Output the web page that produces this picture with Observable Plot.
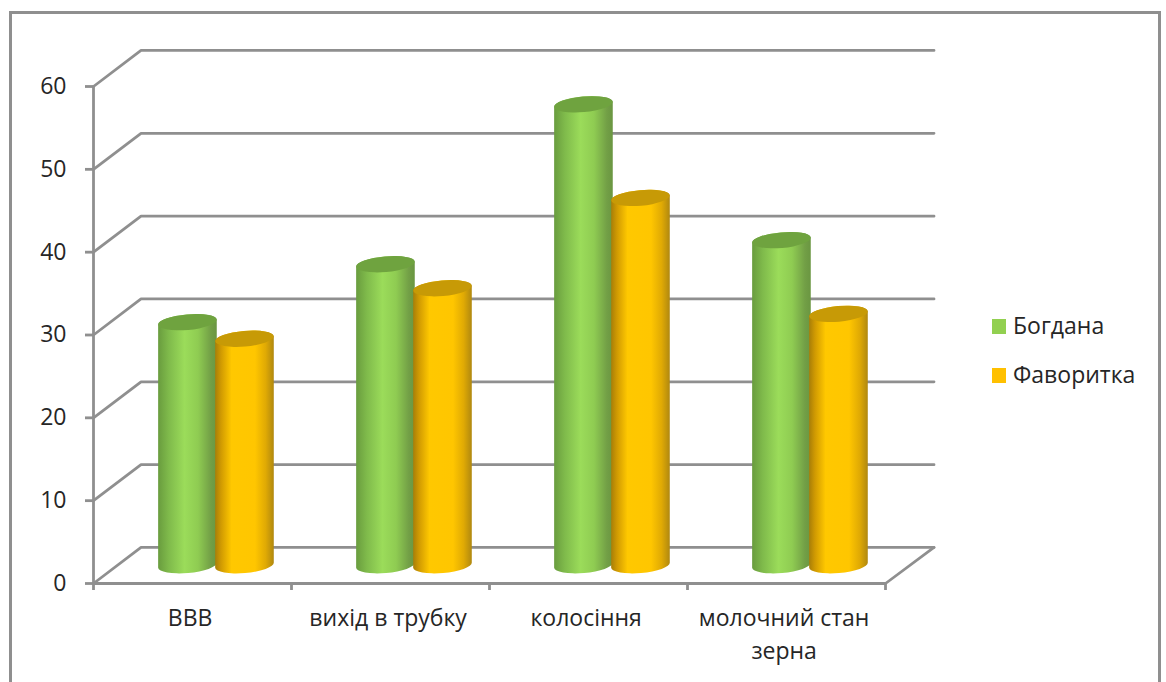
<!DOCTYPE html>
<html>
<head>
<meta charset="utf-8">
<script src="https://cdn.jsdelivr.net/npm/d3@7"></script>
<script src="https://cdn.jsdelivr.net/npm/@observablehq/plot@0.6"></script>
<style>
  html, body { margin: 0; padding: 0; background: #fff; overflow: hidden; }
  #page { position: relative; width: 1166px; height: 682px; overflow: hidden; font-family: "Open Sans", sans-serif; color: #262626; }
  #border { position: absolute; left: 9px; top: 11px; width: 1152px; height: 720px; border: 3px solid #8f8f8f; box-sizing: border-box; }
  #chart { position: absolute; left: 0; top: 0; }
  #chart svg { background: transparent; }
  .key { position: absolute; left: 992px; font-size: 23px; line-height: 28px; white-space: nowrap; }
  .key i { display: inline-block; width: 14px; height: 15px; margin-right: 7px; vertical-align: 0; }
</style>
</head>
<body>
<div id="page">
  <div id="border"></div>
  <div id="chart"></div>
</div>
<script>
// Growth stages along the axis; line breaks as set on the category labels.
const stages = ["ВВВ", "вихід в трубку", "колосіння", "молочний стан\nзерна"];
const varieties = ["Богдана", "Фаворитка"];
const bogdana = [30.4, 37.4, 56.7, 40.3];
const favoritka = [28.4, 34.5, 45.4, 31.4];
const valueTicks = [0, 10, 20, 30, 40, 50, 60];
const swatches = ["#92d050", "#ffc000"];
const caps = ["#6fa33f", "#c79a06"];

// Oblique projection of the chart's box: how far the back wall sits, in data units.
const depthX = 0.24;
const depthY = 4.35;
const topLift = depthY * 0.25;
const floorLevel = 2.15;
const barHalf = 0.148;
const barCentres = [0.477, 0.765];
const grey = "#8f8f8f";

const rows = [];
stages.forEach((stage, i) => {
  rows.push({i, series: 0, low: i + barCentres[0] - barHalf, high: i + barCentres[0] + barHalf, value: bogdana[i]});
  rows.push({i, series: 1, low: i + barCentres[1] - barHalf, high: i + barCentres[1] + barHalf, value: favoritka[i]});
});

// Wall lines: oblique run from the axis, then straight across the back wall.
const wall = valueTicks.flatMap(v => [
  {v, x: 0, y: v},
  {v, x: depthX, y: v + depthY},
  {v, x: 4 + depthX + 0.005, y: v + depthY}
]);
const floorEdge = [
  {x: 0, y: 0},
  {x: 4, y: 0},
  {x: 4 + depthX + 0.005, y: depthY}
];

// Horizontal shading that rounds each cylinder.
function gradients() {
  const defs = d3.create("svg:defs");
  const stops = [
    [["0%", "#699c3e"], ["18%", "#7fba4b"], ["45%", "#9bdc5a"], ["68%", "#8fcc52"], ["90%", "#729f46"], ["100%", "#6a9641"]],
    [["0%", "#a87e08"], ["10%", "#d09a02"], ["28%", "#ffc800"], ["68%", "#ffc600"], ["86%", "#e0aa04"], ["100%", "#b08810"]]
  ];
  stops.forEach((set, k) => {
    const g = defs.append("linearGradient").attr("id", "shade" + k).attr("x1", 0).attr("x2", 1).attr("y1", 0).attr("y2", 0);
    set.forEach(([o, c]) => g.append("stop").attr("offset", o).attr("stop-color", c));
  });
  return defs.node();
}

// Turns each rectangle's scaled corners into a tilted cylinder with a darker cap.
function cylinder(index, scales, values, dims, context) {
  const g = d3.create("svg:g");
  const tilt = -5;
  for (const n of index) {
    const x1 = values.x1[n], x2 = values.x2[n];
    const bottom = values.y1[n], top = values.y2[n];
    const rx = (x2 - x1) / 2, ry = 7.8, rise = rx * Math.sin(-tilt * Math.PI / 180);
    const s = rows[n].series;
    g.append("path")
      .attr("fill", `url(#shade${s})`)
      .attr("d", `M${x1},${bottom + rise} A${rx},${ry} ${tilt} 0 0 ${x2},${bottom - rise} L${x2},${top - rise} A${rx},${ry} ${tilt} 0 0 ${x1},${top + rise} Z`);
    g.append("ellipse")
      .attr("fill", caps[s])
      .attr("cx", (x1 + x2) / 2).attr("cy", top)
      .attr("rx", rx).attr("ry", ry)
      .attr("transform", `rotate(${tilt} ${(x1 + x2) / 2} ${top})`);
  }
  return g.node();
}

const chart = Plot.plot({
  width: 1166,
  height: 682,
  marginLeft: 93,
  marginRight: 281,
  marginTop: 86,
  marginBottom: 99,
  style: {fontFamily: "'Open Sans', sans-serif", fontSize: "23px", color: "#262626", background: "transparent", overflow: "visible"},
  x: {type: "linear", domain: [0, 4], axis: null},
  y: {domain: [0, 60], axis: null},
  marks: [
    gradients,
    Plot.line(wall, {x: "x", y: "y", z: "v", stroke: grey, strokeWidth: 2.8, curve: "linear"}),
    Plot.line(floorEdge, {x: "x", y: "y", stroke: grey, strokeWidth: 2.8}),
    Plot.ruleX([0], {y1: 0, y2: 60, stroke: grey, strokeWidth: 2.8}),
    Plot.axisY(valueTicks, {anchor: "left", label: null, tickSize: 8, tickPadding: 19, stroke: grey, strokeWidth: 2.8, fill: "#262626", fontSize: 23}),
    Plot.axisX([0, 1, 2, 3, 4], {anchor: "bottom", label: null, tickSize: 7, stroke: grey, strokeWidth: 2.8, tickFormat: () => ""}),
    Plot.rect(rows, {
      x1: "low",
      x2: "high",
      y1: () => floorLevel,
      y2: d => d.value + topLift,
      render: cylinder
    }),
    Plot.text(stages, {
      x: (d, i) => i + 0.5 - 0.012,
      frameAnchor: "bottom",
      dy: 19,
      lineAnchor: "top",
      lineHeight: 1.43,
      text: d => d,
      fontSize: 23,
      fill: "#262626"
    })
  ]
});
document.getElementById("chart").append(chart);

// Legend to the right of the plot.
const page = document.getElementById("page");
varieties.forEach((name, k) => {
  const row = document.createElement("div");
  row.className = "key";
  row.style.top = (311 + k * 49) + "px";
  const mark = document.createElement("i");
  mark.style.background = swatches[k];
  row.append(mark, name);
  page.append(row);
});
</script>
</body>
</html>
